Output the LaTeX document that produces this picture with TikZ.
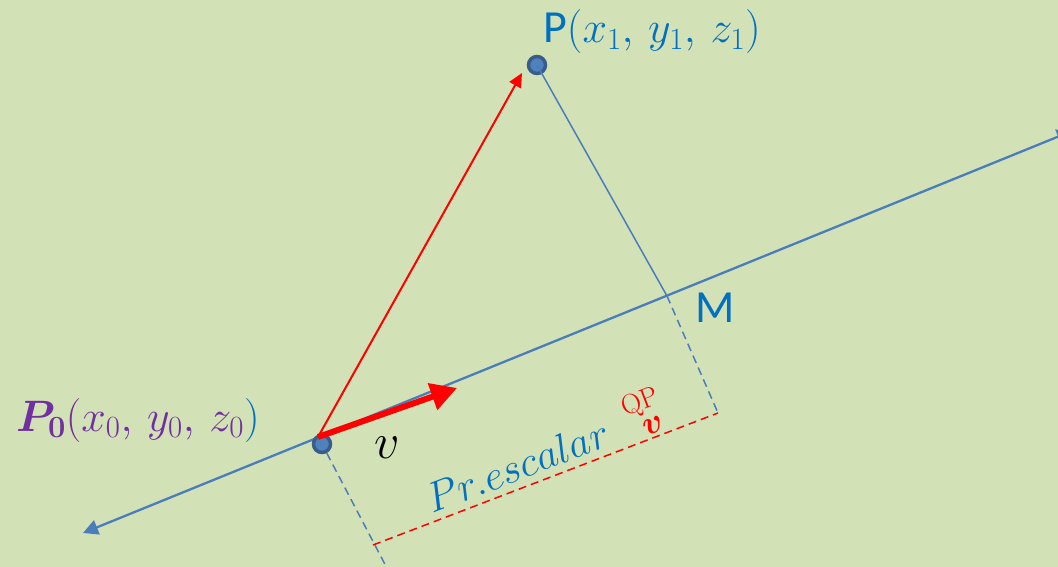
\RequirePackage{fix-cm}
\documentclass[tikz,border=0pt]{standalone}
\usepackage[no-math]{fontspec}
\setmainfont{Carlito}
\usepackage{amsmath,bm}
\usetikzlibrary{arrows.meta}
\definecolor{bg}{HTML}{D3E1B6}
\definecolor{lineblue}{HTML}{4A7EBB}
\definecolor{txtblue}{HTML}{0070C0}
\definecolor{ptfill}{HTML}{4F81BD}
\definecolor{ptborder}{HTML}{385D8A}
\definecolor{purp}{HTML}{7030A0}
\begin{document}
\begin{tikzpicture}[x=1pt,y=-1pt,
  mainline/.style={lineblue, line width=2.3pt},
  helper/.style={lineblue, line width=1.5pt},
  dashhelper/.style={lineblue, line width=1.5pt, dash pattern=on 8pt off 5pt},
  reddash/.style={red, line width=1.5pt, dash pattern=on 8pt off 5pt},
  pt/.style={circle, fill=ptfill, draw=ptborder, line width=3.5pt, minimum size=17pt, inner sep=0pt},
  lab/.style={inner sep=0pt},
]
\fill[bg] (0,0) rectangle (1058,567);
\useasboundingbox (0,0) rectangle (1058,567);
% coordinates
\coordinate (L) at (83,533);
\coordinate (R) at (1072,131);
\coordinate (M) at (667,296);
\coordinate (O) at (318,437);
\coordinate (Vt) at (457,388);
\coordinate (Ptip) at (522,73);
\coordinate (D1) at (389,572);
\coordinate (D2) at (718,413);
\coordinate (E1) at (373,545);
% main line
\draw[mainline, {Triangle[length=15pt,width=15pt]}-{Triangle[length=15pt,width=15pt]}] (L) -- (R);
% points
\node[pt] (P0) at (322,444) {};
\node[pt] (P) at (537,65) {};
% helper lines
\draw[dashhelper] (P0) -- (D1);
\draw[dashhelper] (M) -- (D2);
\draw[reddash] (E1) -- (D2);
\draw[helper] (P.center) -- (M);
% vectors
\draw[red, line width=2pt, -{Triangle[length=14pt,width=13pt]}] (O) -- (Ptip);
\draw[red, line width=6pt, -{Triangle[length=26pt,width=27pt]}] (O) -- (Vt);
% labels
\node[lab, anchor=base west, text=txtblue] (Plab) at (543,43)
  {\fontsize{46}{50}\selectfont P\fontsize{44}{50}\selectfont$(x_1,\, y_1,\, z_1)$};
\node[lab, anchor=base west, text=purp] (P0lab) at (16,431)
  {\fontsize{44}{50}\selectfont$\bm{P}_{\mathbf{0}}(x_0,\, y_0,\, z_0\textcolor{txtblue}{)}$};
\node[lab, anchor=base] (vlab) at (387,458) {\fontsize{50}{56}\selectfont$v$};
\node[lab, anchor=base west, text=txtblue] (Mlab) at (695,322) {\fontsize{46}{50}\selectfont M};
\node[lab, anchor=base west, rotate=21, text=txtblue] (pr) at (432,514)
  {\fontsize{42}{48}\selectfont$Pr.escalar$};
\node[lab, anchor=base west, rotate=21, text=red] (qp) at (625,417)
  {\fontsize{28}{32}\selectfont$\mathrm{QP}$};
\node[lab, anchor=base west, rotate=21, text=red] (bv) at (646,437)
  {\fontsize{34}{38}\selectfont$\bm{v}$};
\end{tikzpicture}
\end{document}
